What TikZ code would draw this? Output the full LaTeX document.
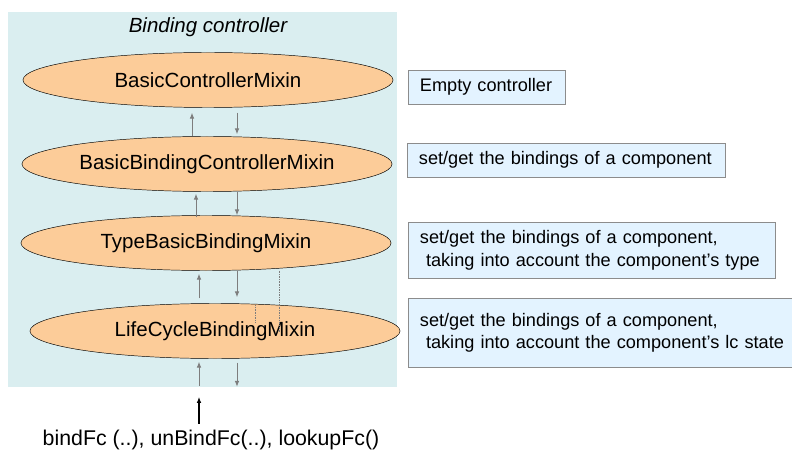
\documentclass[tikz,border=0pt]{standalone}
\usepackage{fontspec}
\setmainfont{Liberation Sans}
\usetikzlibrary{shapes.geometric,arrows.meta,calc}
\definecolor{panelbg}{RGB}{218,238,240}
\definecolor{mixfill}{RGB}{252,204,153}
\definecolor{notefill}{RGB}{227,243,255}
\definecolor{notedraw}{RGB}{140,140,140}
\definecolor{linkgray}{RGB}{125,125,125}
\tikzset{
mixin/.style={
  ellipse, draw=black, fill=mixfill, inner sep=0pt,
  minimum width=11.1cm, minimum height=1.65cm,
  font=\fontsize{17.5}{20}\selectfont
  },
note/.style={
  rectangle, draw=notedraw, fill=notefill, anchor=north west,
  align=left, inner xsep=10pt, inner ysep=3pt,
  font=\fontsize{15.5}{19}\selectfont
  },
link/.style={->, draw=linkgray, line width=0.8pt}
}

\begin{document}
\begin{tikzpicture}[x=0.03cm, y=-0.03cm, >={Latex[length=5pt,width=4pt]}]
\useasboundingbox (0,0) rectangle (792,455);

\node[fill=panelbg, minimum width=11.67cm, minimum height=11.25cm,
  inner sep=0pt] (ctrl) at (202.5,199.5) {};
\node[font=\fontsize{17.5}{20}\selectfont\itshape] (title) at (208,27)
  {Binding controller};

\node[mixin] (bc)  at (208,80)  {BasicControllerMixin};
\node[mixin] (bbc) at (207,164) {BasicBindingControllerMixin};
\node[mixin] (tbb) at (206,243) {TypeBasicBindingMixin};
\node[mixin] (lcb) at (215,331) {LifeCycleBindingMixin};

% up / down calls between the mixins
\draw[link] ($(bbc.north)+(-15,0)$) -- ($(bc.south)+(-16,5)$);
\draw[link] ($(bc.south)+(29,5)$) -- ($(bbc.north)+(30,-2)$);

\draw[link] ($(tbb.north)+(-10,2)$) -- ($(bbc.south)+(-11,2)$);
\draw[link] ($(bbc.south)+(30,0)$) -- ($(tbb.north)+(31,0)$);

\draw[link] ($(lcb.north)+(-16,-5)$) -- ($(tbb.south)+(-7,3)$);
\draw[link] ($(tbb.south)+(31,0)$) -- ($(lcb.north)+(22,-6)$);

\draw[link] ($(lcb.south)+(-16,27)$) -- ($(lcb.south)+(-16,3)$);
\draw[link] ($(lcb.south)+(22,4)$) -- ($(lcb.south)+(22,28)$);

\draw[densely dotted, draw=linkgray] ($(tbb.south)+(73,0)$) -- ($(tbb.south)+(73,62)$);
\draw[densely dotted, draw=linkgray] ($(lcb.north)+(40,2)$) -- ($(lcb.north)+(40,20)$);

% notes
\node[note, text width=114pt, minimum height=1.02cm] (n1) at (408,70)
  {\mbox{Empty controller}};
\node[note, text width=251pt, minimum height=1.02cm] (n2) at (407,143)
  {\mbox{set/get the bindings of a component}};
\node[note, text width=293pt, minimum height=1.68cm] (n3) at (408,222)
  {\mbox{set/get the bindings of a component,}\\
   \mbox{\ taking into account the component's type}};
\node[note, text width=308pt, minimum height=2.07cm] (n4) at (408,298)
  {\mbox{set/get the bindings of a component,}\\
   \mbox{\ taking into account the component's lc state}};

% entry calls
\node[font=\fontsize{18.2}{21}\selectfont] (calls) at (211,440)
  {bindFc (..), unBindFc(..), lookupFc()};
\coordinate (entry) at (199,397);
\draw[->, line width=0.9pt] ($(calls.north)+(-12,-2)$) -- (entry);
\end{tikzpicture}
\end{document}
